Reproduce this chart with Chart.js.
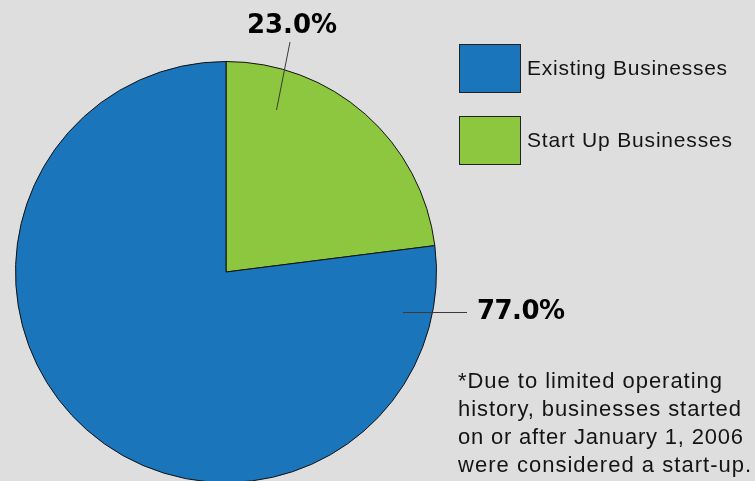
<!DOCTYPE html>
<html><head><meta charset="utf-8">
<script src="https://cdn.jsdelivr.net/npm/chart.js@4"></script>
<style>
html,body{margin:0;padding:0;background:#dedede;width:755px;height:481px;overflow:hidden;}
#wrap{position:absolute;left:0;top:0;width:755px;height:485px;}
.t{position:absolute;font-family:"Liberation Sans",Arial,Helvetica,sans-serif;color:#141414;white-space:nowrap;}
.lbl{font-family:"DejaVu Sans","Liberation Sans",sans-serif;font-weight:bold;font-size:26px;color:#000;}
.leg{font-size:21px;}
.note{font-size:22px;line-height:28px;}
.box{position:absolute;border:1px solid #222;box-sizing:border-box;}
</style></head>
<body>
<div id="wrap"><canvas id="c"></canvas></div>
<div id="overlay"></div>
<script>
const categories = ['Start Up Businesses', 'Existing Businesses'];
const shares = [23.0, 77.0];
const sliceColors = ['#8dc63f', '#1b75bb'];
const legendOrder = [1, 0];
const valueLabels = ['23.0%', '77.0%'];
const footnoteLines = ['*Due to limited operating', 'history, businesses started', 'on or after January 1, 2006', 'were considered a start-up.'];

const ov = document.getElementById('overlay');
function add(cls, style, text, targetW){
  const d = document.createElement('div');
  d.className = cls; d.setAttribute('style', style); d.textContent = text;
  ov.appendChild(d);
  if (targetW) {
    const w = d.getBoundingClientRect().width;
    const n = Math.max(text.length - 1, 1);
    d.style.letterSpacing = ((targetW - w) / n).toFixed(2) + 'px';
  }
  return d;
}
function addBox(style){
  const d = document.createElement('div');
  d.className = 'box'; d.setAttribute('style', style); ov.appendChild(d);
}

// legend
const legTop = [44, 116];
const legW = [200, 205];
legendOrder.forEach((idx, i) => {
  addBox(`left:459px;top:${legTop[i]}px;width:62px;height:49px;background:${sliceColors[idx]}`);
  add('t leg', `left:527px;top:${legTop[i]+12}px`, categories[idx], legW[i]);
});
// value labels
add('t lbl', 'left:247px;top:9px', valueLabels[0], 90);
add('t lbl', 'left:477px;top:295px', valueLabels[1], 88);
// footnote
const noteW = [264, 283, 285, 293];
footnoteLines.forEach((s, i) => {
  add('t note', `left:458px;top:${367 + i*28}px`, s, noteW[i]);
});

const leaderPlugin = {
  id: 'leaders',
  afterDraw(chart) {
    const ctx = chart.ctx;
    ctx.save();
    ctx.strokeStyle = '#3a3a3a';
    ctx.lineWidth = 1;
    ctx.beginPath();
    ctx.moveTo(290, 42); ctx.lineTo(276.5, 110);
    ctx.moveTo(403, 312.5); ctx.lineTo(467, 312.5);
    ctx.stroke();
    ctx.restore();
  }
};

new Chart(document.getElementById('c'), {
  type: 'pie',
  data: {
    labels: categories,
    datasets: [{
      data: shares,
      backgroundColor: sliceColors,
      borderColor: '#111',
      borderWidth: 1
    }]
  },
  options: {
    responsive: true,
    maintainAspectRatio: false,
    animation: false,
    layout: {padding: {left: 15, top: 61, right: 318, bottom: 2}},
    plugins: {legend: {display: false}, tooltip: {enabled: false}}
  },
  plugins: [leaderPlugin]
});
</script>
</body></html>
